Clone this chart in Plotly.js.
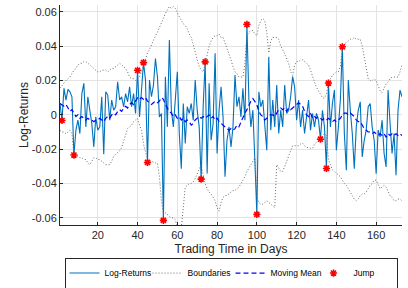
<!DOCTYPE html>
<html>
<head>
<meta charset="utf-8">
<script src="https://cdn.plot.ly/plotly-3.0.1.min.js"></script>
<style>html,body{margin:0;padding:0;background:#fff;}#chart{width:408px;height:288px;}</style>
</head>
<body>
<div id="chart"></div>
<script>
// Log-returns for trading days 1..173
const logReturns = [
0.0066,-0.0033,0.0154,0.0086,0.0148,0.0134,0.0105,-0.0234,-0.0089,-0.0031,
-0.0109,0.0124,0.0183,-0.0070,0.0105,0.0027,-0.0051,-0.0187,-0.0012,-0.0089,
-0.0070,0.0105,-0.0229,0.0134,0.0115,-0.0031,0.0086,0.0027,0.0047,0.0192,
0.0086,0.0105,0.0047,0.0124,0.0076,0.0163,0.0047,0.0124,0.0008,0.0259,
-0.0012,0.0144,0.0304,0.0202,-0.0277,0.0202,0.0105,0.0173,0.0328,0.0222,
-0.0012,0.0008,-0.0614,0.0222,-0.0070,0.0435,0.0027,-0.0070,0.0086,0.0251,
-0.0109,-0.0313,0.0066,-0.0167,0.0047,0.0008,0.0066,-0.0031,0.0202,0.0027,
-0.0070,-0.0374,0.0047,0.0308,-0.0342,0.0183,-0.0148,-0.0051,0.0358,-0.0225,
0.0027,0.0163,-0.0012,-0.0360,-0.0148,-0.0070,-0.0187,-0.0070,0.0231,0.0047,
0.0105,-0.0012,0.0154,-0.0031,0.0526,0.0086,-0.0070,0.0027,-0.0264,-0.0579,
0.0134,0.0047,0.0086,-0.0070,-0.0206,0.0338,-0.0089,0.0086,-0.0070,0.0173,
-0.0109,0.0027,-0.0070,0.0173,0.0008,0.0027,0.0105,0.0222,0.0163,-0.0031,
0.0086,-0.0070,0.0027,-0.0109,-0.0012,0.0086,-0.0089,0.0008,-0.0070,0.0008,
-0.0031,-0.0142,0.0027,-0.0070,-0.0312,0.0185,-0.0070,0.0066,0.0144,-0.0206,
-0.0070,0.0086,0.0396,-0.0109,-0.0323,0.0202,0.0027,-0.0109,-0.0313,-0.0070,
0.0027,0.0076,-0.0245,-0.0148,-0.0089,0.0047,0.0066,-0.0070,-0.0148,-0.0342,
-0.0089,-0.0128,-0.0031,-0.0225,-0.0303,0.0144,-0.0051,-0.0225,-0.0109,-0.0352,
0.0027,0.0144,0.0105
];
const upperBound = [
0.0155,0.017,0.019,0.020,0.021,0.022,0.024,0.026,0.027,0.029,
0.030,0.030,0.031,0.031,0.030,0.029,0.028,0.027,0.026,0.025,
0.025,0.026,0.026,0.026,0.025,0.026,0.027,0.027,0.028,0.029,
0.030,0.029,0.028,0.027,0.025,0.022,0.021,0.021,0.020,0.021,
0.022,0.025,0.029,0.032,0.036,0.038,0.041,0.043,0.046,0.048,
0.051,0.054,0.057,0.059,0.061,0.063,0.062,0.063,0.062,0.059,
0.057,0.055,0.053,0.052,0.050,0.047,0.045,0.041,0.036,0.032,
0.028,0.026,0.025,0.030,0.036,0.040,0.043,0.045,0.046,0.046,
0.047,0.045,0.045,0.042,0.039,0.035,0.032,0.028,0.025,0.024,
0.022,0.022,0.022,0.030,0.046,0.048,0.049,0.049,0.047,0.046,
0.052,0.055,0.056,0.055,0.048,0.036,0.043,0.045,0.045,0.045,
0.044,0.040,0.038,0.035,0.033,0.030,0.025,0.023,0.029,0.031,
0.031,0.032,0.032,0.031,0.030,0.029,0.026,0.022,0.019,0.016,
0.014,0.012,0.010,0.0097,0.012,0.019,0.021,0.023,0.024,0.025,
0.025,0.028,0.039,0.041,0.042,0.043,0.044,0.044,0.045,0.044,
0.044,0.044,0.040,0.033,0.027,0.021,0.020,0.020,0.021,0.020,
0.017,0.014,0.013,0.016,0.018,0.019,0.021,0.022,0.022,0.022,
0.022,0.025,0.029
];
const lowerBound = [
-0.009,-0.010,-0.010,-0.011,-0.010,-0.009,-0.011,-0.024,-0.024,-0.024,
-0.025,-0.025,-0.026,-0.026,-0.028,-0.029,-0.027,-0.025,-0.025,-0.026,
-0.026,-0.027,-0.028,-0.029,-0.029,-0.029,-0.027,-0.024,-0.023,-0.022,
-0.021,-0.019,-0.015,-0.011,-0.008,-0.007,-0.006,-0.004,-0.003,-0.002,
-0.006,-0.009,-0.017,-0.022,-0.026,-0.027,-0.027,-0.0275,-0.028,-0.028,
-0.036,-0.050,-0.057,-0.057,-0.058,-0.059,-0.060,-0.060,-0.061,-0.066,
-0.068,-0.066,-0.052,-0.042,-0.041,-0.040,-0.040,-0.039,-0.037,-0.034,
-0.032,-0.029,-0.035,-0.040,-0.043,-0.045,-0.046,-0.048,-0.050,-0.054,
-0.056,-0.051,-0.048,-0.047,-0.047,-0.046,-0.045,-0.044,-0.044,-0.043,
-0.042,-0.040,-0.038,-0.036,-0.033,-0.031,-0.029,-0.027,-0.025,-0.048,
-0.051,-0.052,-0.052,-0.051,-0.050,-0.051,-0.052,-0.053,-0.054,-0.029,
-0.031,-0.033,-0.033,-0.030,-0.027,-0.024,-0.020,-0.018,-0.018,-0.018,
-0.018,-0.017,-0.0165,-0.018,-0.019,-0.019,-0.0195,-0.0195,-0.017,-0.016,
-0.015,-0.0145,-0.012,-0.011,-0.012,-0.026,-0.029,-0.032,-0.033,-0.034,
-0.035,-0.036,-0.038,-0.040,-0.041,-0.043,-0.045,-0.047,-0.049,-0.050,
-0.049,-0.047,-0.046,-0.046,-0.045,-0.043,-0.041,-0.040,-0.038,-0.038,
-0.041,-0.043,-0.042,-0.041,-0.042,-0.045,-0.047,-0.048,-0.050,-0.050,
-0.049,-0.049,-0.050
];
const movingMean = [
0.0066,0.006,0.005,0.006,0.004,0.002,0.003,0.001,-0.001,0.000,
-0.002,-0.001,-0.002,-0.003,-0.002,-0.003,-0.003,-0.004,-0.003,-0.003,
-0.002,-0.003,-0.004,-0.002,-0.001,-0.002,0.000,0.001,0.000,0.002,
0.003,0.002,0.004,0.005,0.004,0.006,0.007,0.006,0.008,0.010,
0.009,0.010,0.009,0.010,0.008,0.007,0.006,0.007,0.008,0.007,
0.008,0.010,0.009,0.006,0.004,0.002,0.001,-0.001,0.000,-0.002,
-0.001,-0.003,-0.002,-0.004,-0.003,-0.004,-0.006,-0.005,-0.003,-0.002,
-0.001,-0.002,-0.001,-0.002,-0.001,0.000,-0.002,-0.001,-0.003,-0.002,
-0.004,-0.005,-0.006,-0.007,-0.008,-0.009,-0.008,-0.009,-0.008,-0.006,
-0.007,-0.004,-0.002,0.001,0.003,0.006,0.008,0.0095,0.008,0.006,
0.002,0.000,-0.001,-0.003,-0.002,-0.001,0.000,0.000,-0.001,0.001,
0.003,0.004,0.003,0.004,0.002,0.004,0.003,0.004,0.005,0.006,
0.007,0.006,0.005,0.002,0.000,-0.001,0.001,-0.002,-0.001,-0.002,
-0.001,-0.002,-0.003,-0.002,-0.003,-0.002,-0.003,-0.004,-0.003,-0.004,
-0.003,-0.002,0.000,0.001,0.001,0.000,0.001,0.000,-0.001,-0.003,
-0.004,-0.004,-0.006,-0.008,-0.009,-0.010,-0.010,-0.011,-0.010,-0.011,
-0.012,-0.011,-0.012,-0.011,-0.013,-0.011,-0.012,-0.011,-0.012,-0.011,
-0.012,-0.011,-0.012
];
const jumpDays = [2, 8, 40, 43, 45, 53, 72, 74, 95, 100, 132, 135, 136, 143];
const jumpValues = [-0.0033,-0.0234,0.0259,0.0304,-0.0277,-0.0614,-0.0374,0.0308,0.0526,-0.0579,-0.0142,-0.0312,0.0185,0.0396];
const yTickVals = [-0.06,-0.04,-0.02,0,0.02,0.04,0.06];
const yTickText = ['-0.06','-0.04','-0.02','0','0.02','0.04','0.06'];
const xTickVals = [20,40,60,80,100,120,140,160];

const days = logReturns.map((_, i) => i + 1);

const traces = [
  {x: days, y: logReturns, type: 'scatter', mode: 'lines', name: 'Log-Returns',
   line: {color: '#0072BD', width: 1.1}},
  {x: days, y: upperBound, type: 'scatter', mode: 'lines', name: 'Boundaries', legendgroup: 'b',
   line: {color: '#6a6a6a', width: 1, dash: '1px,2px'}},
  {x: days, y: lowerBound, type: 'scatter', mode: 'lines', name: 'Boundaries', legendgroup: 'b', showlegend: false,
   line: {color: '#6a6a6a', width: 1, dash: '1px,2px'}},
  {x: days, y: movingMean, type: 'scatter', mode: 'lines', name: 'Moving Mean',
   line: {color: '#0000FF', width: 1.2, dash: '5px,3px'}},
  {x: jumpDays, y: jumpValues, type: 'scatter', mode: 'markers', name: 'Jump',
   marker: {symbol: 'asterisk-open', size: 6, color: '#FF0000', line: {color: '#FF0000', width: 1.6}}}
];

const layout = {
  width: 408, height: 288,
  margin: {l: 60, r: 6, t: 5, b: 63, autoexpand: false},
  paper_bgcolor: '#ffffff', plot_bgcolor: '#ffffff',
  font: {family: 'Liberation Sans, Arial, sans-serif', size: 11, color: '#262626'},
  showlegend: true,
  legend: {orientation: 'h', x: 0.5, xanchor: 'center', y: -0.148, yanchor: 'top',
    bordercolor: '#262626', borderwidth: 1, bgcolor: '#ffffff',
    font: {size: 8.5, color: '#000000'}, itemwidth: 30, entrywidth: 38, entrywidthmode: 'pixels', tracegroupgap: 0},
  xaxis: {range: [1, 173], tickvals: xTickVals, ticks: 'inside', ticklen: 3, tickcolor: '#262626',
    showgrid: true, gridcolor: '#e3e3e3', gridwidth: 1, zeroline: false,
    showline: true, linecolor: '#262626', linewidth: 1, mirror: false,
    tickfont: {size: 11, color: '#262626'},
    title: {text: 'Trading Time in Days', font: {size: 12, color: '#262626'}, standoff: 4}},
  yaxis: {range: [-0.0641, 0.0639], tickvals: yTickVals, ticktext: yTickText, ticks: 'inside', ticklen: 3, tickcolor: '#262626',
    showgrid: true, gridcolor: '#e3e3e3', gridwidth: 1, zeroline: false,
    showline: true, linecolor: '#262626', linewidth: 1, mirror: false,
    tickfont: {size: 11, color: '#262626'},
    title: {text: 'Log-Returns', font: {size: 12, color: '#262626'}, standoff: 0}}
};

Plotly.newPlot('chart', traces, layout, {displayModeBar: false, staticPlot: true});
</script>
</body>
</html>
